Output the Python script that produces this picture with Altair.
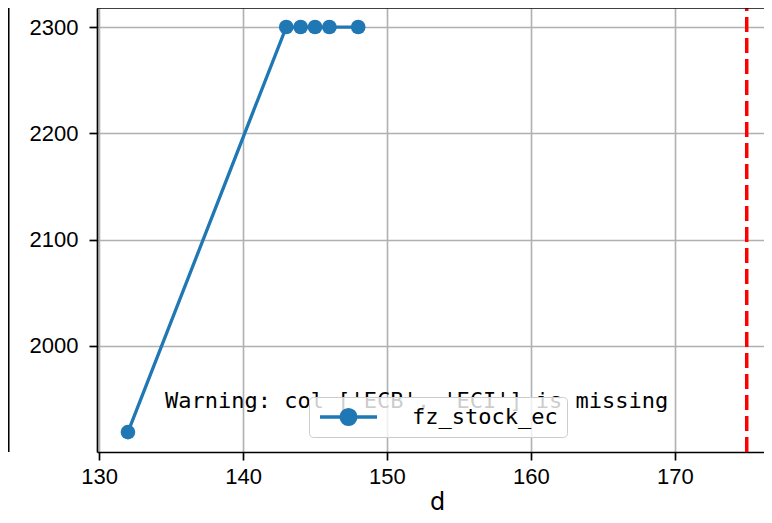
import altair as alt
import pandas as pd

# ---- data ----
d_vals = [132, 143, 144, 145, 146, 148]
stock_vals = [1919, 2300, 2300, 2300, 2300, 2300]
series_name = "fz_stock_ec"
vline_d = [175]
warning_text = ["Warning: col ['ECB', 'ECI'] is missing"]
x_ticks = [130, 140, 150, 160, 170]
y_ticks = [2000, 2100, 2200, 2300]

W, H = 667, 444
X_DOM = [129.85, 176.2]
Y_DOM = [1900.3, 2317.9]

df = pd.DataFrame({"d": d_vals, "v": stock_vals, "series": [series_name] * len(d_vals)})
vdf = pd.DataFrame({"d": vline_d})
tdf = pd.DataFrame({"t": warning_text})

BLUE = "#1f77b4"
SPINE = 1.7

x_scale = alt.Scale(domain=X_DOM, nice=False, zero=False)
y_scale = alt.Scale(domain=Y_DOM, nice=False, zero=False)

x_axis = alt.Axis(values=x_ticks, title="d", format="d",
                  labelPadding=6, titleY=57, titleBaseline="alphabetic", titleX=340,
                  titleFont="DejaVu Sans", titleFontSize=24, titleFontWeight="normal")
y_axis = alt.Axis(values=y_ticks, title=None, format="d", labelPadding=11)

legend_symbol = "M-1,0H1M0.26,0A0.26,0.26,0,1,1,-0.26,0A0.26,0.26,0,1,1,0.26,0Z"

line = alt.Chart(df).mark_line(
    strokeWidth=3.3,
    point=alt.OverlayMarkDef(filled=True, size=215, color=BLUE, opacity=1),
).encode(
    x=alt.X("d:Q", scale=x_scale, axis=x_axis),
    y=alt.Y("v:Q", scale=y_scale, axis=y_axis),
    color=alt.Color("series:N", scale=alt.Scale(range=[BLUE]),
                    legend=alt.Legend(
                        title=None, orient="none", legendX=212, legendY=389,
                        fillColor="rgba(255,255,255,0.8)", strokeColor="#cccccc",
                        cornerRadius=4, padding=9,
                        symbolType=legend_symbol, symbolSize=3249,
                        symbolStrokeWidth=3.3, symbolFillColor=BLUE,
                        labelFont="DejaVu Sans Mono", labelFontSize=22,
                        labelOffset=33, labelColor="black", clipHeight=22)),
)

vline = alt.Chart(vdf).mark_rule(color="red", strokeWidth=3.5, strokeDash=[15, 6]).encode(
    x=alt.X("d:Q", scale=x_scale),
    y=alt.value(H),
    y2=alt.value(0),
)

warn = alt.Chart(tdf).mark_text(
    align="left", baseline="alphabetic", font="DejaVu Sans Mono", fontSize=22, color="black"
).encode(
    x=alt.value(68),
    y=alt.value(399.5),
    text="t:N",
)

top_spine = alt.Chart(tdf).mark_rule(color="black", strokeWidth=SPINE).encode(
    x=alt.value(0), x2=alt.value(W), y=alt.value(0)
)
left_panel_spine = alt.Chart(tdf).mark_rule(color="black", strokeWidth=SPINE).encode(
    x=alt.value(-88.3), y=alt.value(-1), y2=alt.value(H)
)

chart = alt.layer(line, vline, warn, top_spine, left_panel_spine).properties(
    width=W, height=H,
    padding={"left": 89, "top": 0, "right": 0, "bottom": 63},
    autosize=alt.AutoSizeParams(type="none"),
).configure_view(
    stroke=None
).configure_axis(
    domainColor="black", domainWidth=SPINE,
    tickColor="black", tickWidth=SPINE, tickSize=8,
    gridColor="#b0b0b0", gridWidth=1.6,
    labelFont="Liberation Sans", labelFontSize=22, labelColor="black",
    titleColor="black",
)

chart.save("out.html", embed_options={"renderer": "svg", "actions": False})
